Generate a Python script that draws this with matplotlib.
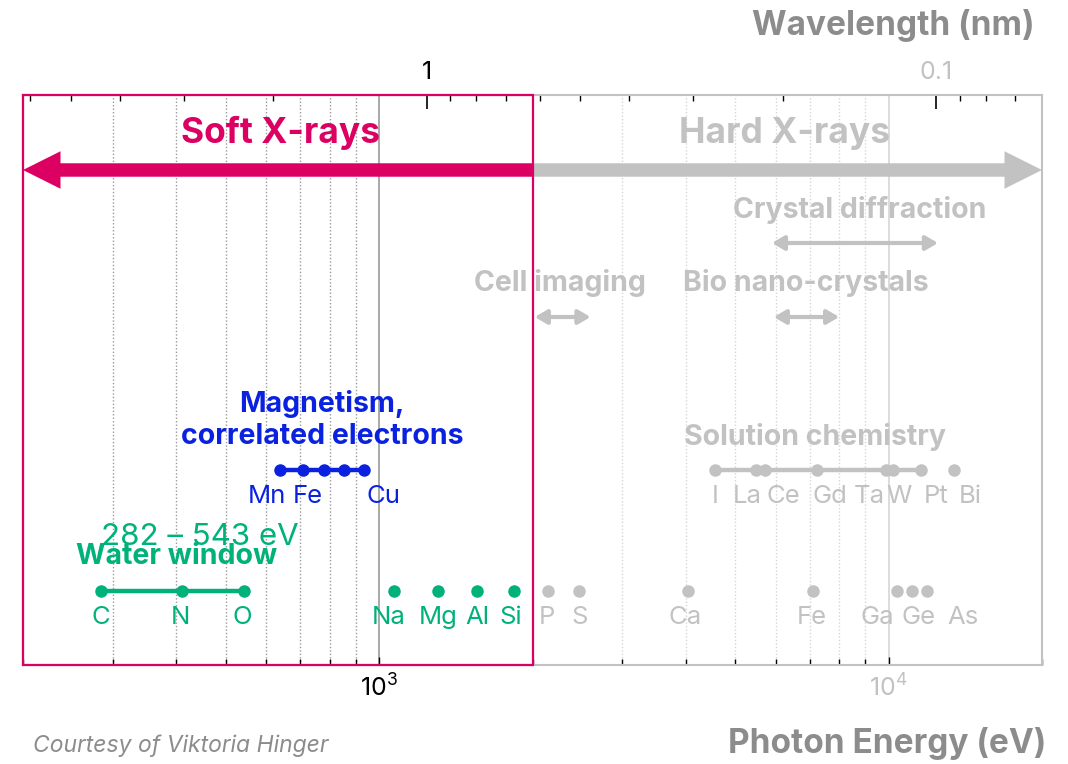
import matplotlib
matplotlib.use('Agg')
import matplotlib.pyplot as plt
import numpy as np

HC = 1239.84  # eV * nm

# absorption edges in eV
water_elements = ['C', 'N', 'O']
water_edges = [284, 410, 543]
light_elements = ['Na', 'Mg', 'Al', 'Si']
light_edges = [1071, 1303, 1559, 1839]
hard_elements = ['P', 'S', 'Ca', 'Fe', 'Ga', 'Ge', 'As']
hard_edges = [2145, 2472, 4038, 7112, 10367, 11103, 11867]
mag_elements = ['Mn', 'Fe', '', '', 'Cu']
mag_edges = [640, 708, 779, 853, 933]
sol_elements = ['I', 'La', 'Ce', 'Gd', 'Ta', 'W', 'Pt', 'Bi']
sol_edges = [4557, 5483, 5723, 7243, 9881, 10207, 11564, 13419]

soft_range = [200, 2000]
hard_range = [2000, 20000]
crystal_range = [5900, 12500]
cell_range = [2020, 2600]
bio_range = [5950, 8000]

PINK = '#DC0062'
GREEN = '#00B27A'
BLUE = '#0A22E0'
GRAY = '#C2C2C2'
DARKGRAY = '#8C8C8C'

plt.rcParams['font.family'] = ['Inter', 'DejaVu Sans']

fig = plt.figure(figsize=(10.68, 7.64), dpi=100)
ax = fig.add_axes([23/1068, 99/764, 1019/1068, 570/764])
ax.set_xscale('log')
ax.set_xlim(200, 20000)
ax.set_ylim(570, 0)
ax.set_yticks([])

for s in ax.spines.values():
    s.set_color(GRAY)
    s.set_linewidth(1.5)

# grid
for e in list(np.arange(3, 10) * 100) + list(np.arange(3, 10) * 1000):
    ax.axvline(e, color='#9A9A9A' if e < 2000 else '#D6D6D6', lw=1, ls=(0, (1, 1.5)), zorder=0)
ax.axvline(1000, color='#9A9A9A', lw=1.2, zorder=0)
ax.axvline(10000, color='#D6D6D6', lw=1.2, zorder=0)

# soft x-ray frame
ax.axvspan(soft_range[0], soft_range[1], fill=False, ec=PINK, lw=1.6, clip_on=False, zorder=6)

# bands
big = 'simple,head_length=27,head_width=27,tail_width=9.7'
ax.annotate('', xy=(soft_range[0], 75), xytext=(soft_range[1], 75),
            arrowprops=dict(arrowstyle=big, mutation_scale=1, fc=PINK, ec='none', shrinkA=0, shrinkB=0))
ax.annotate('', xy=(hard_range[1], 75), xytext=(hard_range[0], 75),
            arrowprops=dict(arrowstyle=big, mutation_scale=1, fc=GRAY, ec='none', shrinkA=0, shrinkB=0),
            annotation_clip=False)
ax.text(640, 38, 'Soft X-rays', color=PINK, fontsize=25.5, fontweight='bold', ha='center', va='center')
ax.text(6250, 38, 'Hard X-rays', color=GRAY, fontsize=25.5, fontweight='bold', ha='center', va='center')

small = '<|-|>,head_length=0.6,head_width=0.35'
for rng, y in [(crystal_range, 148), (cell_range, 222), (bio_range, 222)]:
    ax.annotate('', xy=(rng[0], y), xytext=(rng[1], y),
                arrowprops=dict(arrowstyle=small, mutation_scale=12, color=GRAY, lw=3, shrinkA=0, shrinkB=0))

lab = dict(color=GRAY, fontsize=20.5, fontweight='bold', ha='center', va='center')
ax.text(8770, 115, 'Crystal diffraction', **lab)
ax.text(2265, 188, 'Cell imaging', **lab)
ax.text(6870, 188, 'Bio nano-crystals', **lab)
ax.text(7160, 342, 'Solution chemistry', **lab)
ax.text(773, 325, 'Magnetism,\ncorrelated electrons', color=BLUE, fontsize=20.5, fontweight='bold',
        ha='center', va='center', linespacing=1.25)
ax.text(444, 442, '282 – 543 eV', color=GREEN, fontsize=22.5, ha='center', va='center')
ax.text(400, 462, 'Water window', color=GREEN, fontsize=20.5, fontweight='bold', ha='center', va='center')


def element_row(edges, names, y, color, shifts, n_line=0):
    if n_line:
        ax.plot(edges[:n_line], [y] * n_line, '-', color=color, lw=3.2, zorder=3)
    ax.plot(edges, [y] * len(edges), 'o', color=color, ms=9, mec='none', zorder=4)
    for e, name, dx in zip(edges, names, shifts):
        ax.annotate(name, (e, y), xytext=(dx, -19), textcoords='offset points',
                    ha='center', va='center', color=color, fontsize=18.5)


element_row(water_edges, water_elements, 496, GREEN, [0, -1, -1], n_line=3)
element_row(light_edges, light_elements, 496, GREEN, [-4, 0, 0, -2])
element_row(hard_edges, hard_elements, 496, GRAY, [-1, 0, -2, -1, -14, 5, 26])
element_row(mag_edges, mag_elements, 375, BLUE, [-10, 4, 0, 0, 14], n_line=5)
element_row(sol_edges, sol_elements, 375, GRAY, [0, -6, 13, 9, -12, 4, 11, 12], n_line=7)

# bottom axis
ax.set_xticks([1000, 10000], labels=['$\\mathregular{10^3}$', '$\\mathregular{10^4}$'])
ax.xaxis.set_minor_formatter(matplotlib.ticker.NullFormatter())
ax.tick_params(axis='x', which='both', direction='in', top=False, labelsize=18, pad=7)
ax.tick_params(axis='x', which='major', length=6, width=1)
ax.tick_params(axis='x', which='minor', length=4, width=1)

# top axis: wavelength
secax = ax.secondary_xaxis('top', functions=(lambda e: HC / e, lambda w: HC / w))
secax.set_xticks([1, 0.1], labels=['1', '0.1'])
secax.tick_params(axis='x', which='both', direction='in', labelsize=18, pad=8)
secax.tick_params(axis='x', which='major', length=10, width=1.2)
secax.tick_params(axis='x', which='minor', length=4, width=1)
secax.spines['top'].set_visible(False)

fig.text(1035/1068, 1 - 25/764, 'Wavelength (nm)', color=DARKGRAY, fontsize=24, fontweight='bold',
         ha='right', va='center')
fig.text(1046/1068, 1 - 743/764, 'Photon Energy (eV)', color=DARKGRAY, fontsize=24, fontweight='bold',
         ha='right', va='center')
fig.text(33/1068, 1 - 746/764, 'Courtesy of Viktoria Hinger', color=DARKGRAY, fontsize=16.5,
         style='italic', ha='left', va='center')

# colour ticks: soft side black, hard side gray
fig.canvas.draw()
for t in ax.xaxis.get_major_ticks() + ax.xaxis.get_minor_ticks():
    c = 'black' if t.get_loc() <= 2000 else GRAY
    t.tick1line.set_color(c)
    t.label1.set_color(c)
for t in secax.xaxis.get_major_ticks() + secax.xaxis.get_minor_ticks():
    c = 'black' if t.get_loc() >= HC / 2000 else GRAY
    t.tick2line.set_color(c)
    t.label2.set_color(c)

fig.savefig('out.png', dpi=100)
